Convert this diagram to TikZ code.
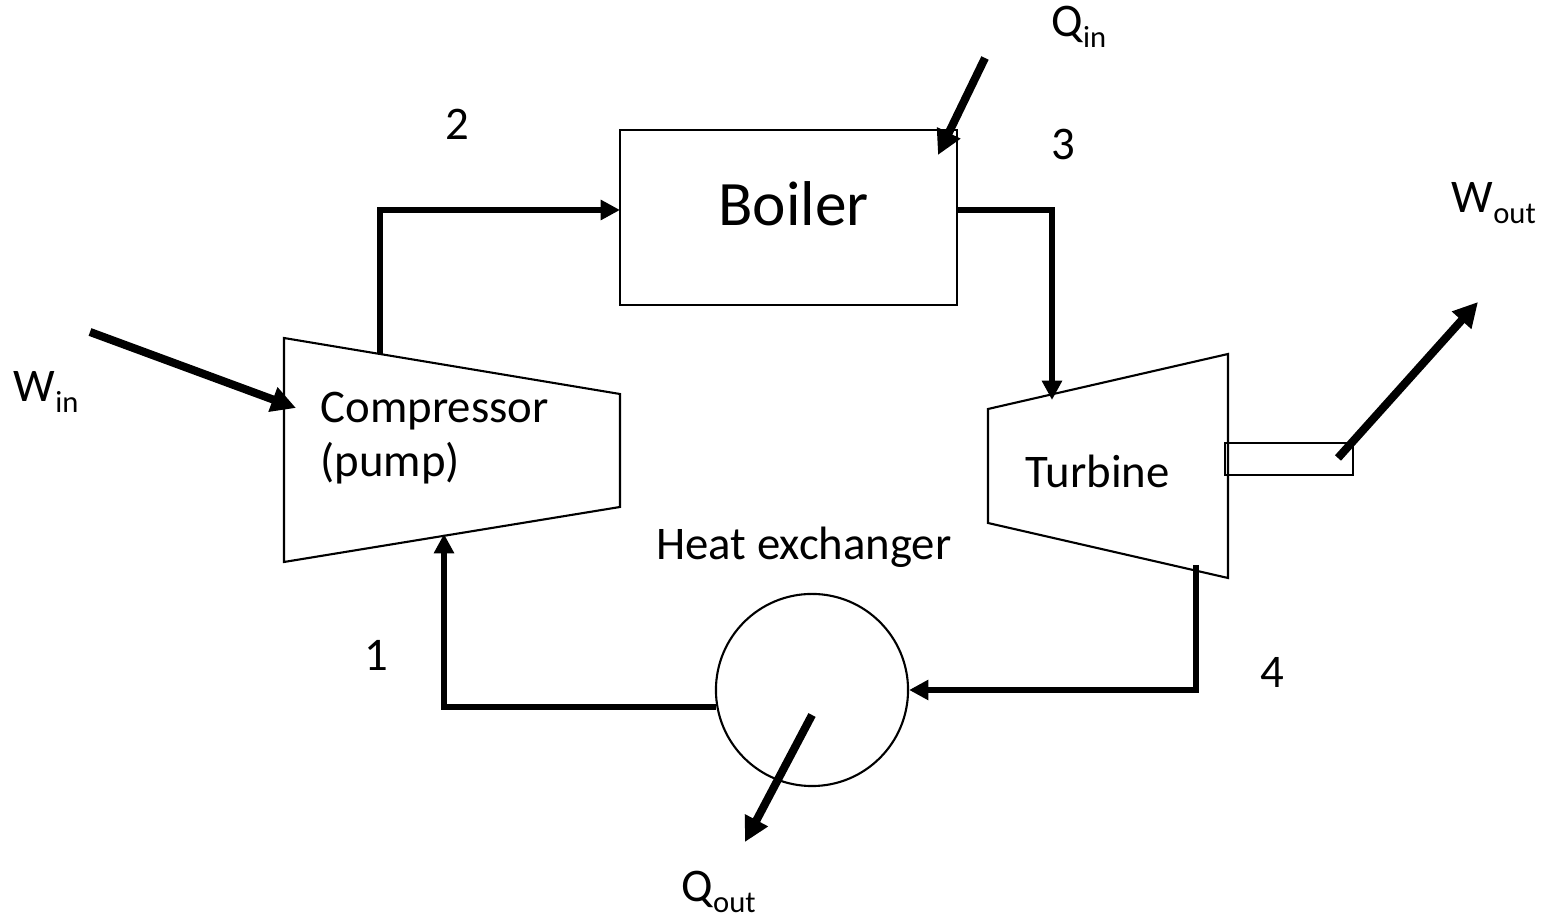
\documentclass[tikz,border=0pt]{standalone}
\usepackage{fontspec}
\setmainfont{Carlito}
\usetikzlibrary{arrows.meta}
\newcommand{\subtxt}[1]{\raisebox{-3.1pt}{\fontsize{8.7}{9}\selectfont #1}}

\begin{document}
\begin{tikzpicture}[x=0.01cm, y=-0.01cm,
  every node/.style={font=\fontsize{13.3}{15.4}\selectfont, inner sep=0pt},
  unit/.style={draw, line width=0.6pt},
  flow/.style={line width=1.7pt, -{Triangle[length=5.5pt,width=5.5pt]}},
  heat/.style={line width=2.3pt, -{Triangle[length=7pt,width=7pt]}}]
  \useasboundingbox (0,0) rectangle (1544,916);

  \coordinate (CTL) at (284,338);
  \coordinate (CBL) at (284,562);
  \coordinate (CTR) at (620,394);
  \coordinate (CBR) at (620,507);
  \coordinate (TTL) at (988,409);
  \coordinate (TBL) at (988,523);
  \coordinate (TTR) at (1228,354);
  \coordinate (TBR) at (1228,578);

  \coordinate (P2a) at (380,354);
  \coordinate (P2b) at (620,210);
  \coordinate (P3a) at (957,210);
  \coordinate (P3b) at (1052,400);
  \coordinate (P4a) at (1196,565);
  \coordinate (P1b) at (444,534);

  \coordinate (WinA) at (90,332);
  \coordinate (WinB) at (296,408);
  \coordinate (QinA) at (985,58);
  \coordinate (QinB) at (938,155);
  \coordinate (WoutA) at (1338,458);
  \coordinate (WoutB) at (1478,302);
  \coordinate (QoutA) at (812,715);
  \coordinate (QoutB) at (745,842);

  \node[unit, minimum width=3.37cm, minimum height=1.75cm, text depth=8pt,
        font=\fontsize{18}{20}\selectfont] (boiler) at (788.5,217.5) {\hspace{3pt}Boiler};
  \node[unit, circle, minimum size=1.92cm] (hx) at (812,690) {};
  \draw[unit] (CTL)--(CTR)--(CBR)--(CBL)--cycle;
  \draw[unit] (TTL)--(TTR)--(TBR)--(TBL)--cycle;
  \draw[unit] (1225,443) rectangle (1353,475);

  \draw[flow] (P2a) |- (P2b);
  \draw[flow] (P3a) -| (P3b);
  \draw[flow] (P4a) |- (hx.east);
  \draw[flow] (hx.190) -| (P1b);

  \draw[heat] (WinA)--(WinB);
  \draw[heat] (QinA)--(QinB);
  \draw[heat] (WoutA)--(WoutB);
  \draw[heat] (QoutA)--(QoutB);

  \node[anchor=base west, align=left] (comp) at (320,477) {Compressor\\(pump)};
  \node[anchor=base west] (turb) at (1025,488) {Turbine};
  \node[anchor=base] (hxlbl) at (804,560) {Heat exchanger};

  \node (s1) at (376,655) {1};
  \node (s2) at (457,124) {2};
  \node (s3) at (1063,144) {3};
  \node (s4) at (1272,672) {4};

  \node[anchor=base west] (win)  at (13,402)   {W\subtxt{in}};
  \node[anchor=base west] (qin)  at (1051,37)  {Q\subtxt{in}};
  \node[anchor=base west] (wout) at (1451,213) {W\subtxt{out}};
  \node[anchor=base west] (qout) at (681,902)  {Q\subtxt{out}};
\end{tikzpicture}
\end{document}
